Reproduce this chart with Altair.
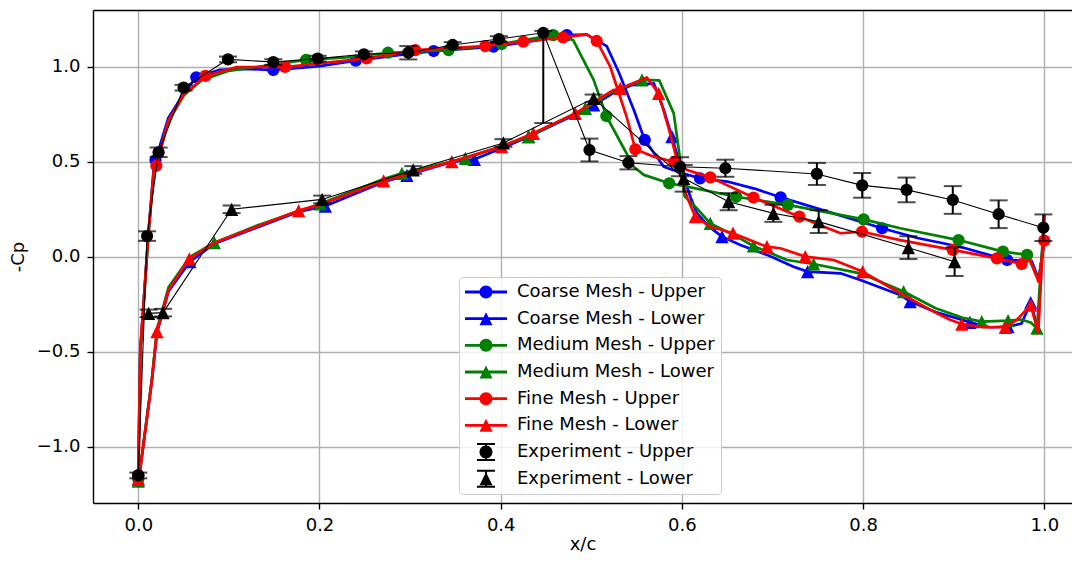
import altair as alt
import pandas as pd

# ---------------- CFD: Coarse mesh ----------------
cu_x = [0.0, 0.0022, 0.011, 0.0169, 0.019, 0.033, 0.050, 0.064, 0.090, 0.120, 0.149, 0.200, 0.240, 0.300, 0.326,
        0.392, 0.440, 0.473, 0.495, 0.517, 0.530, 0.547, 0.559, 0.580, 0.598, 0.620, 0.650, 0.680, 0.709, 0.760,
        0.821, 0.860, 0.907, 0.959, 0.986, 0.994, 1.0]
cu_y = [-1.15, -0.49, 0.11, 0.46, 0.51, 0.73, 0.86, 0.946, 0.985, 0.99, 0.984, 1.005, 1.033, 1.07, 1.084,
        1.107, 1.14, 1.168, 1.17, 1.11, 0.976, 0.774, 0.616, 0.475, 0.445, 0.414, 0.397, 0.36, 0.314, 0.24,
        0.151, 0.10, 0.054, -0.016, -0.02, -0.12, 0.086]
cu_mk = [0.0, 0.019, 0.064, 0.149, 0.240, 0.326, 0.392, 0.473, 0.559, 0.620, 0.709, 0.821, 0.959]

cl_x = [0.0, 0.002, 0.015, 0.0206, 0.0334, 0.057, 0.0839, 0.131, 0.177, 0.2064, 0.2708, 0.2965, 0.346, 0.371,
        0.401, 0.4308, 0.4823, 0.5026, 0.525, 0.545, 0.569, 0.580, 0.589, 0.600, 0.6093, 0.6166, 0.630, 0.6443,
        0.6645, 0.694, 0.7233, 0.7388, 0.775, 0.797, 0.841, 0.852, 0.880, 0.918, 0.940, 0.960, 0.975, 0.985,
        0.993, 1.0]
cl_y = [-1.17, -1.12, -0.65, -0.40, -0.18, -0.025, 0.07, 0.155, 0.238, 0.268, 0.395, 0.43, 0.50, 0.514,
        0.572, 0.633, 0.75, 0.80, 0.865, 0.905, 0.914, 0.774, 0.633, 0.45, 0.317, 0.23, 0.16, 0.107,
        0.063, 0.011, -0.051, -0.077, -0.086, -0.121, -0.20, -0.235, -0.29, -0.344, -0.37, -0.367, -0.35, -0.24,
        -0.38, 0.22]
cl_mk = [0.0, 0.057, 0.2064, 0.2965, 0.371, 0.4308, 0.5026, 0.589, 0.6443, 0.7388, 0.852, 0.918, 0.960, 0.985]

# ---------------- CFD: Medium mesh ----------------
mu_x = [0.0, 0.0022, 0.011, 0.017, 0.020, 0.033, 0.050, 0.070, 0.100, 0.130, 0.185, 0.230, 0.2756, 0.3425,
        0.401, 0.458, 0.480, 0.5026, 0.5166, 0.5468, 0.558, 0.586, 0.6056, 0.660, 0.717, 0.8006, 0.841, 0.9054,
        0.9544, 0.981, 0.9937, 1.0]
mu_y = [-1.17, -0.5, 0.11, 0.44, 0.49, 0.71, 0.85, 0.93, 0.98, 1.0, 1.037, 1.05, 1.075, 1.089,
        1.121, 1.168, 1.142, 0.932, 0.742, 0.475, 0.432, 0.388, 0.37, 0.317, 0.274, 0.198, 0.151, 0.089,
        0.028, 0.011, -0.121, 0.086]
mu_mk = [0.0, 0.185, 0.2756, 0.3425, 0.401, 0.458, 0.5166, 0.586, 0.660, 0.717, 0.8006, 0.9054, 0.9544, 0.981]

ml_x = [0.0, 0.002, 0.015, 0.0206, 0.0334, 0.057, 0.0839, 0.131, 0.2009, 0.2708, 0.291, 0.361, 0.4308, 0.4934,
        0.520, 0.556, 0.575, 0.591, 0.597, 0.603, 0.6166, 0.6313, 0.657, 0.679, 0.716, 0.7454, 0.797, 0.8447,
        0.880, 0.910, 0.931, 0.960, 0.975, 0.985, 0.992, 1.0]
ml_y = [-1.18, -1.12, -0.64, -0.38, -0.16, 0.0, 0.075, 0.165, 0.28, 0.41, 0.44, 0.519, 0.633, 0.782,
        0.86, 0.932, 0.93, 0.756, 0.55, 0.32, 0.256, 0.177, 0.116, 0.058, -0.016, -0.037, -0.086, -0.182,
        -0.27, -0.32, -0.34, -0.335, -0.33, -0.345, -0.375, 0.22]
ml_mk = [0.0, 0.0839, 0.2009, 0.291, 0.361, 0.4308, 0.4934, 0.556, 0.6313, 0.679, 0.7454, 0.8447, 0.931,
         0.960, 0.992]

# ---------------- CFD: Fine mesh ----------------
fu_x = [0.0, 0.0022, 0.011, 0.0169, 0.0199, 0.0334, 0.050, 0.074, 0.109, 0.162, 0.252, 0.3057, 0.383, 0.425,
        0.469, 0.495, 0.506, 0.521, 0.539, 0.5486, 0.569, 0.5916, 0.6056, 0.6313, 0.679, 0.7296, 0.775, 0.7988,
        0.841, 0.899, 0.9477, 0.975, 0.9845, 0.9937, 1.0]
fu_y = [-1.15, -0.49, 0.11, 0.45, 0.48, 0.72, 0.853, 0.953, 1.0, 1.0, 1.045, 1.089, 1.11, 1.133,
        1.156, 1.172, 1.137, 1.0, 0.738, 0.567, 0.528, 0.50, 0.458, 0.419, 0.313, 0.212, 0.125, 0.133,
        0.089, 0.037, -0.007, -0.037, -0.016, -0.13, 0.086]
fu_mk = [0.0, 0.0199, 0.074, 0.162, 0.252, 0.3057, 0.383, 0.425, 0.469, 0.506, 0.5486, 0.5916, 0.6313, 0.679,
         0.7296, 0.7988, 0.899, 0.9477, 0.975, 1.0]

fl_x = [0.0, 0.002, 0.015, 0.0206, 0.0334, 0.0563, 0.0839, 0.131, 0.177, 0.200, 0.2708, 0.346, 0.401, 0.436,
        0.4823, 0.5247, 0.532, 0.5614, 0.5743, 0.587, 0.5946, 0.5982, 0.6056, 0.6148, 0.631, 0.6564, 0.679,
        0.6939, 0.7086, 0.7362, 0.7675, 0.7995, 0.841, 0.878, 0.896, 0.909, 0.933, 0.957, 0.970, 0.985,
        0.9934, 1.0]
fl_y = [-1.17, -1.12, -0.65, -0.393, -0.174, -0.01, 0.075, 0.16, 0.244, 0.274, 0.40, 0.502, 0.581, 0.651,
        0.756, 0.879, 0.887, 0.945, 0.861, 0.651, 0.51, 0.44, 0.317, 0.212, 0.16, 0.125, 0.081,
        0.054, 0.046, 0.002, -0.016, -0.077, -0.191, -0.288, -0.33, -0.353, -0.37, -0.37, -0.33, -0.253,
        -0.40, 0.22]
fl_mk = [0.0, 0.0206, 0.0563, 0.177, 0.2708, 0.346, 0.401, 0.436, 0.4823, 0.532, 0.5743, 0.6148, 0.6564,
         0.6939, 0.7362, 0.7995, 0.909, 0.957, 0.985]

# ---------------- Experiment ----------------
eu_x = [0.0, 0.0097, 0.0224, 0.050, 0.099, 0.149, 0.198, 0.249, 0.298, 0.347, 0.398, 0.447, 0.498, 0.541,
        0.598, 0.648, 0.749, 0.799, 0.848, 0.899, 0.9496, 0.999]
eu_y = [-1.15, 0.11, 0.551, 0.891, 1.04, 1.026, 1.044, 1.067, 1.075, 1.116, 1.147, 1.18, 0.563, 0.496,
        0.475, 0.467, 0.437, 0.377, 0.353, 0.30, 0.225, 0.154]
eu_elo = [0.015, 0.025, 0.025, 0.015, 0.015, 0.015, 0.015, 0.015, 0.035, 0.015, 0.015, 0.475, 0.06, 0.035,
          0.05, 0.045, 0.058, 0.065, 0.065, 0.073, 0.073, 0.07]
eu_ehi = [0.015, 0.025, 0.025, 0.015, 0.015, 0.015, 0.015, 0.015, 0.035, 0.015, 0.015, 0.01, 0.06, 0.035,
          0.05, 0.045, 0.058, 0.065, 0.065, 0.073, 0.073, 0.07]

el_x = [0.0114, 0.0273, 0.103, 0.203, 0.3035, 0.403, 0.5026, 0.602, 0.6516, 0.701, 0.751, 0.850, 0.901]
el_y = [-0.297, -0.293, 0.251, 0.303, 0.458, 0.60, 0.835, 0.414, 0.291, 0.23, 0.186, 0.049, -0.025]
el_err = [0.02, 0.02, 0.02, 0.02, 0.02, 0.02, 0.02, 0.07, 0.045, 0.045, 0.06, 0.06, 0.075]

labels = ["Coarse Mesh - Upper", "Coarse Mesh - Lower", "Medium Mesh - Upper", "Medium Mesh - Lower",
          "Fine Mesh - Upper", "Fine Mesh - Lower", "Experiment - Upper", "Experiment - Lower"]
colors = ["blue", "blue", "green", "green", "red", "red", "black", "black"]

# ---------------- shapes ----------------
TRI = "M0,-1L1,1L-1,1Z"
L_LINE = "M-4.2,-0.28L4.2,-0.28L4.2,0.28L-4.2,0.28Z"
L_CIRC = "M1.3,0A1.3,1.3 0 1,1 -1.3,0A1.3,1.3 0 1,1 1.3,0Z"
L_TRI = "M0,-1.3L1.3,1.3L-1.3,1.3Z"
L_EBAR = ("M-0.2,-1.8L0.2,-1.8L0.2,1.8L-0.2,1.8Z"
          "M-1.8,-1.8L1.8,-1.8L1.8,-1.4L-1.8,-1.4Z"
          "M-1.8,1.4L1.8,1.4L1.8,1.8L-1.8,1.8Z")
legend_paths = [L_LINE + L_CIRC, L_LINE + L_TRI, L_LINE + L_CIRC, L_LINE + L_TRI,
                L_LINE + L_CIRC, L_LINE + L_TRI, L_EBAR + L_CIRC, L_EBAR + L_TRI]

XDOM = [-0.05, 1.0306]
YDOM = [-1.295, 1.30]
FONT = "DejaVu Sans"

x_axis_bottom = alt.Axis(values=[0, 0.2, 0.4, 0.6, 0.8, 1.0], format=".1f", title="x/c", orient="bottom")
x_axis_top = alt.Axis(orient="top", labels=False, ticks=False, grid=False, domain=True, title=None)
y_axis = alt.Axis(values=[-1.0, -0.5, 0.0, 0.5, 1.0], format=".1f", title="-Cp")


def X(field, axis=None):
    return alt.X(f"{field}:Q", scale=alt.Scale(domain=XDOM, nice=False, zero=False), axis=axis)


def Y(field):
    return alt.Y(f"{field}:Q", scale=alt.Scale(domain=YDOM, nice=False, zero=False), axis=y_axis)


cfd = [
    ("Coarse Mesh - Upper", cu_x, cu_y, cu_mk, "blue", "circle"),
    ("Coarse Mesh - Lower", cl_x, cl_y, cl_mk, "blue", TRI),
    ("Medium Mesh - Upper", mu_x, mu_y, mu_mk, "green", "circle"),
    ("Medium Mesh - Lower", ml_x, ml_y, ml_mk, "green", TRI),
    ("Fine Mesh - Upper", fu_x, fu_y, fu_mk, "red", "circle"),
    ("Fine Mesh - Lower", fl_x, fl_y, fl_mk, "red", TRI),
]

layers = []
for i, (name, xs, ys, mk, col, shp) in enumerate(cfd):
    df = pd.DataFrame({"x": xs, "cp": ys, "marker": [v in mk for v in xs]})
    base = alt.Chart(df)
    layers.append(base.mark_line(color=col, strokeWidth=2.7, strokeJoin="round").encode(
        x=X("x", x_axis_bottom if i == 0 else (x_axis_top if i == 1 else None)), y=Y("cp"), order="x:Q"))
    layers.append(base.transform_filter(alt.datum.marker).mark_point(
        filled=True, color=col, opacity=1, strokeWidth=0).encode(
        x=X("x"), y=Y("cp"), shape=alt.value(shp), size=alt.value(150 if shp == "circle" else 175)))

exp = [
    (eu_x, eu_y, [y - e for y, e in zip(eu_y, eu_elo)], [y + e for y, e in zip(eu_y, eu_ehi)], "circle"),
    (el_x, el_y, [y - e for y, e in zip(el_y, el_err)], [y + e for y, e in zip(el_y, el_err)], TRI),
]
for xs, ys, lo, hi, shp in exp:
    df = pd.DataFrame({"x": xs, "cp": ys, "lo": lo, "hi": hi})
    base = alt.Chart(df)
    layers.append(base.mark_line(color="black", strokeWidth=1.1).encode(x=X("x"), y=Y("cp"), order="x:Q"))
    layers.append(base.mark_rule(color="black", strokeWidth=2).encode(x=X("x"), y=Y("lo"), y2="hi:Q"))
    layers.append(base.mark_tick(color="black", orient="horizontal", size=18, thickness=2).encode(
        x=X("x"), y=Y("lo")))
    layers.append(base.mark_tick(color="black", orient="horizontal", size=18, thickness=2).encode(
        x=X("x"), y=Y("hi")))
    layers.append(base.mark_point(filled=True, color="black", opacity=1, strokeWidth=0).encode(
        x=X("x"), y=Y("cp"), shape=alt.value(shp), size=alt.value(150 if shp == "circle" else 175)))

leg = alt.Legend(orient="none", legendX=366, legendY=267, title=None,
                 labelFontSize=18, labelFont=FONT, labelColor="black", labelLimit=400,
                 symbolSize=100, symbolStrokeWidth=0, symbolOffset=12, labelOffset=22,
                 rowPadding=8.67, padding=6, fillColor="rgba(255,255,255,0.8)",
                 strokeColor="#cccccc", cornerRadius=4, symbolOpacity=1)
leg_df = pd.DataFrame({"label": labels})
legend_layer = alt.Chart(leg_df).transform_filter("datum.label == 'none'").mark_point(filled=True).encode(
    color=alt.Color("label:N", scale=alt.Scale(domain=labels, range=colors), legend=leg),
    shape=alt.Shape("label:N", scale=alt.Scale(domain=labels, range=legend_paths), legend=leg),
)
layers.append(legend_layer)

chart = alt.layer(*layers).resolve_axis(x="independent").properties(
    width=979, height=493,
    autosize=alt.AutoSizeParams(type="none"),
    padding={"left": 85, "top": 2, "right": 0, "bottom": 50},
).configure(font=FONT).configure_view(
    strokeWidth=0
).configure_axis(
    labelFontSize=18, titleFontSize=18, titleFontWeight="normal", labelFont=FONT, titleFont=FONT,
    labelColor="black", titleColor="black", tickColor="black", tickWidth=1.4, tickSize=6,
    domainColor="black", domainWidth=1.4, grid=True, gridColor="#b0b0b0", gridWidth=1.4,
    labelPadding=7
).configure_axisX(titlePadding=1).configure_axisY(titlePadding=9)

chart.save("out.html", embed_options={"renderer": "svg", "actions": False})
